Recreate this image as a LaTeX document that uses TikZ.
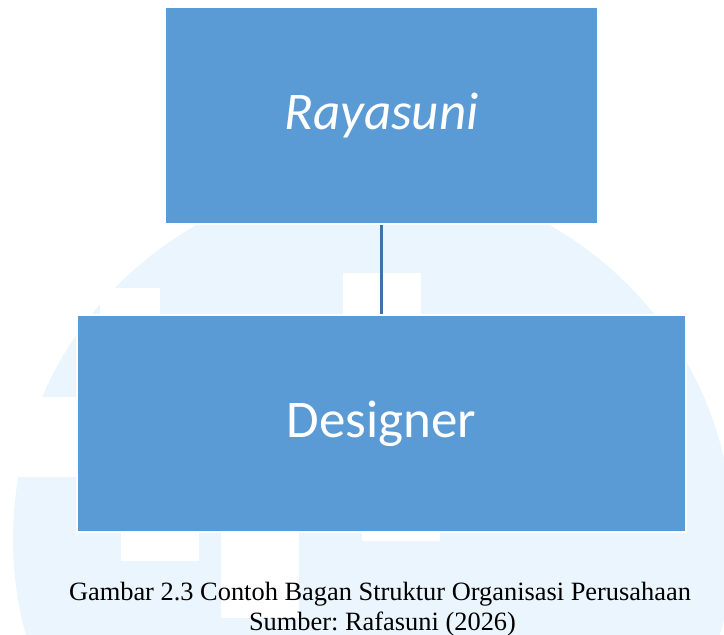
\documentclass[tikz,border=0pt]{standalone}
\usepackage{fontspec}
\setmainfont{Liberation Serif}
\newfontfamily\boxfont{Carlito}
\usepackage{tikz}
\usepackage{xcolor}

\definecolor{boxblue}{HTML}{5B9BD5}
\definecolor{lineblue}{RGB}{65,113,170}
\definecolor{markblue}{RGB}{235,245,254}

\frenchspacing

\begin{document}
\begin{tikzpicture}[x=1pt, y=-1pt,
  box/.style={rectangle, fill=boxblue, draw=white, line width=2pt, text=white,
    font=\boxfont\fontsize{53}{60}\selectfont},
  caption/.style={anchor=base, font=\fontsize{26.4}{30}\selectfont}]
\useasboundingbox (0,0) rectangle (724,635);

% watermark
\begin{scope}
\clip (0,0) rectangle (724,635);
\fill[markblue] (373,539) circle[radius=360pt];
\end{scope}
\fill[white] (100,288) rectangle (160,330);
\fill[white] (343,273) rectangle (421,330);
\fill[white] (0,397) rectangle (90,477);
\fill[white] (121,520) rectangle (199,561);
\fill[white] (221,520) rectangle (299,618);
\fill[white] (362,520) rectangle (440,541);

% chart
\node[box, minimum width=433pt, minimum height=217pt] (owner) at (381.5,115.5) {\itshape Rayasuni};
\node[box, minimum width=609pt, minimum height=217pt] (designer) at (381.5,423.5) {Designer};

\draw[lineblue, line width=2.2pt] (owner) -- (designer);

% caption
\node[caption] (cap1) at (380,600) {Gambar 2.3 Contoh Bagan Struktur Organisasi Perusahaan};
\node[caption] (cap2) at (382.5,630) {Sumber: Rafasuni (2026)};
\end{tikzpicture}
\end{document}
